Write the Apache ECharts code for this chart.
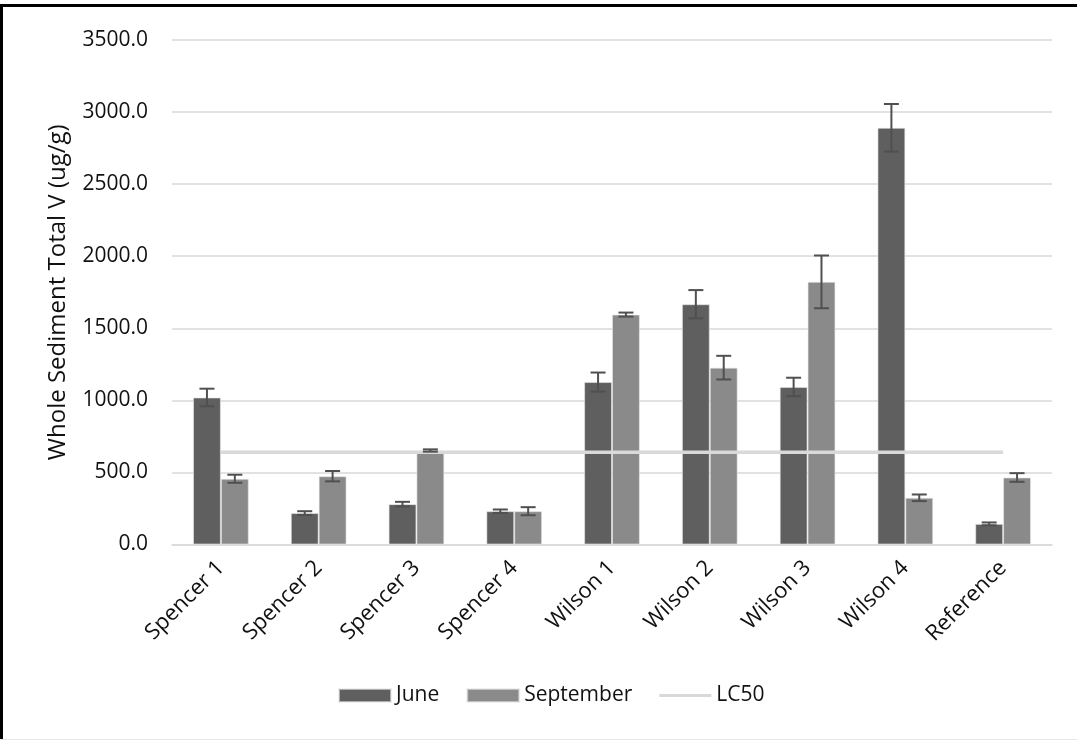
<!DOCTYPE html>
<html>
<head>
<meta charset="utf-8">
<script src="https://cdn.jsdelivr.net/npm/echarts@6/dist/echarts.min.js"></script>
<style>
  html, body { margin: 0; padding: 0; background: #ffffff; }
  #chart { width: 1077px; height: 740px; }
</style>
</head>
<body>
<div id="chart"></div>
<script>
// Sampling sites
const categories = ['Spencer 1', 'Spencer 2', 'Spencer 3', 'Spencer 4', 'Wilson 1', 'Wilson 2', 'Wilson 3', 'Wilson 4', 'Reference'];
// Whole sediment total vanadium (ug/g), means and error
const juneValues = [1020, 218, 280, 231, 1127, 1667, 1093, 2891, 143];
const juneErrors = [61, 13, 16, 12, 66, 98, 64, 165, 10];
const septValues = [456, 474, 652, 231, 1595, 1227, 1822, 324, 465];
const septErrors = [28, 36, 8, 28, 14, 82, 183, 23, 30];
// LC50 reference level
const lc50Value = 640;
const lc50Values = categories.map(() => lc50Value);
const yTicks = [0, 500, 1000, 1500, 2000, 2500, 3000, 3500];

const FONT = '"Open Sans", "Liberation Sans", sans-serif';
const TEXT = '#111111';
const JUNE = '#5f5f5f';
const SEPT = '#8a8a8a';
const LC50 = '#d9d9d9';
const ERR = '#505050';

// each bar occupies this share of a category band; bars touch each other
const BAR_SHARE = 0.285;

// flat stripe centred in a 52x13 box, used as the LC50 legend key
const LINE_KEY = 'path://M0,0L0,0ZM0,5L52,5L52,8L0,8ZM52,13L52,13Z';

function errorBarSeries(values, errors, side) {
  return {
    type: 'custom',
    name: side < 0 ? 'June error' : 'September error',
    z: 10,
    silent: true,
    encode: { x: 0, y: 1 },
    data: values.map((v, i) => [i, v, errors[i]]),
    renderItem: function (params, api) {
      const idx = api.value(0);
      const v = api.value(1);
      const e = api.value(2);
      const band = api.size([1, 0])[0];
      const dx = side * band * BAR_SHARE / 2;
      const hi = api.coord([idx, v + e]);
      const lo = api.coord([idx, v - e]);
      const x = hi[0] + dx;
      const cap = 7.5;
      const style = { stroke: ERR, lineWidth: 2 };
      return {
        type: 'group',
        children: [
          { type: 'line', shape: { x1: x, y1: hi[1], x2: x, y2: lo[1] }, style: style },
          { type: 'line', shape: { x1: x - cap, y1: hi[1], x2: x + cap, y2: hi[1] }, style: style },
          { type: 'line', shape: { x1: x - cap, y1: lo[1], x2: x + cap, y2: lo[1] }, style: style }
        ]
      };
    }
  };
}

const chart = echarts.init(document.getElementById('chart'), null, { renderer: 'canvas' });

chart.setOption({
  animation: false,
  backgroundColor: '#ffffff',
  textStyle: { fontFamily: FONT, color: TEXT },
  graphic: [
    // outer frame
    { type: 'rect', shape: { x: 0, y: 4, width: 1077, height: 3 }, style: { fill: '#000000' }, silent: true },
    { type: 'rect', shape: { x: 0, y: 4, width: 3, height: 736 }, style: { fill: '#000000' }, silent: true },
    { type: 'rect', shape: { x: 0, y: 739, width: 1077, height: 1 }, style: { fill: '#e6e6e6' }, silent: true }
  ],
  grid: { left: 172, right: 25, top: 40, bottom: 195.5, containLabel: false },
  legend: {
    left: 333,
    top: 680,
    itemWidth: 52,
    itemHeight: 13,
    itemGap: 27,
    textStyle: { fontFamily: FONT, fontSize: 21, color: TEXT },
    data: [
      { name: 'June', icon: 'rect' },
      { name: 'September', icon: 'rect' },
      { name: 'LC50', icon: LINE_KEY, itemStyle: { color: LC50 } }
    ]
  },
  xAxis: {
    type: 'category',
    data: categories,
    boundaryGap: true,
    axisLine: { show: true, lineStyle: { color: '#d9d9d9', width: 1.5 } },
    axisTick: { show: false },
    axisLabel: {
      rotate: 45,
      interval: 0,
      margin: 20,
      fontFamily: FONT,
      fontSize: 22,
      color: TEXT
    }
  },
  yAxis: {
    type: 'value',
    min: yTicks[0],
    max: yTicks[yTicks.length - 1],
    interval: 500,
    name: 'Whole Sediment Total V (ug/g)',
    nameLocation: 'middle',
    nameGap: 102,
    nameTextStyle: { fontFamily: FONT, fontSize: 24, color: TEXT },
    axisLine: { show: false },
    axisTick: { show: false },
    splitLine: { lineStyle: { color: '#d9d9d9', width: 1.5 } },
    axisLabel: {
      margin: 24,
      fontFamily: FONT,
      fontSize: 21,
      color: TEXT,
      formatter: function (v) { return v.toFixed(1); }
    }
  },
  series: [
    {
      name: 'June',
      type: 'bar',
      data: juneValues,
      barGap: '0%',
      barCategoryGap: '43%',
      itemStyle: { color: JUNE, borderColor: 'rgba(230,230,230,0.6)', borderWidth: 1 },
      z: 2
    },
    {
      name: 'September',
      type: 'bar',
      data: septValues,
      barGap: '0%',
      barCategoryGap: '43%',
      itemStyle: { color: SEPT, borderColor: 'rgba(230,230,230,0.6)', borderWidth: 1 },
      z: 2
    },
    {
      name: 'LC50',
      type: 'line',
      data: lc50Values,
      symbol: 'none',
      showSymbol: false,
      lineStyle: { color: LC50, width: 3.5 },
      itemStyle: { color: LC50 },
      z: 5
    },
    errorBarSeries(juneValues, juneErrors, -1),
    errorBarSeries(septValues, septErrors, 1)
  ]
});
</script>
</body>
</html>
